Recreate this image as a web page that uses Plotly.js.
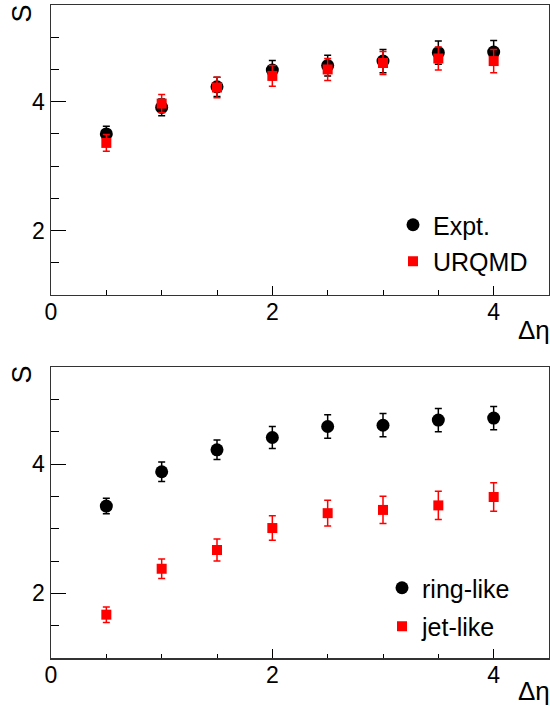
<!DOCTYPE html>
<html>
<head>
<meta charset="utf-8">
<script src="https://cdn.plot.ly/plotly-3.0.1.min.js"></script>
<style>html,body{margin:0;padding:0;background:#fff;}#chart{width:550px;height:706px;}</style>
</head>
<body>
<div id="chart"></div>
<script>
// Data
const deta = [0.5, 1.0, 1.5, 2.0, 2.5, 3.0, 3.5, 4.0];

// Top panel
const expt     = [3.50, 3.91, 4.23, 4.49, 4.56, 4.63, 4.76, 4.77];
const exptErr  = [0.12, 0.13, 0.15, 0.15, 0.16, 0.18, 0.18, 0.18];
const urqmd    = [3.36, 3.97, 4.22, 4.40, 4.50, 4.60, 4.67, 4.63];
const urqmdErr = [0.13, 0.14, 0.16, 0.16, 0.17, 0.18, 0.18, 0.18];

// Bottom panel
const ring     = [3.35, 3.88, 4.22, 4.41, 4.58, 4.60, 4.68, 4.71];
const ringErr  = [0.12, 0.15, 0.15, 0.17, 0.18, 0.18, 0.18, 0.18];
const jet      = [1.67, 2.38, 2.67, 3.01, 3.24, 3.29, 3.36, 3.49];
const jetErr   = [0.12, 0.15, 0.17, 0.19, 0.20, 0.21, 0.22, 0.22];

const xTickVals = [0, 2, 4];
const xTickText = ['0', '2', '4'];
const yTickVals = [2, 4];
const yTickText = ['2', '4'];

const FONT = 'Liberation Sans, Arial, Helvetica, sans-serif';

function tr(name, y, err, color, symbol, size, xa, ya, leg) {
  return {
    type: 'scatter', mode: 'markers', name: name,
    x: deta, y: y, xaxis: xa, yaxis: ya, legend: leg,
    legendgroup: name,
    marker: {color: color, symbol: symbol, size: size},
    error_y: {type: 'data', array: err, visible: true, color: color, thickness: 1.5, width: 3.5}
  };
}

const data = [
  tr('Expt.', expt, exptErr, '#000000', 'circle', 13, 'x', 'y', 'legend'),
  tr('URQMD', urqmd, urqmdErr, '#ff0000', 'square', 10, 'x', 'y', 'legend'),
  tr('ring-like', ring, ringErr, '#000000', 'circle', 13, 'x2', 'y2', 'legend2'),
  tr('jet-like', jet, jetErr, '#ff0000', 'square', 10, 'x2', 'y2', 'legend2')
];

function xax(anchor) {
  return {
    anchor: anchor, domain: [0, 1], range: [0, 4.5],
    tickmode: 'array', tickvals: xTickVals, ticktext: xTickText,
    ticks: 'inside', ticklen: 9, tickwidth: 1, tickcolor: '#000',
    ticklabelstandoff: -4,
    minor: {dtick: 0.5, tick0: 0, ticks: 'inside', ticklen: 4.5, tickwidth: 1, tickcolor: '#000', showgrid: false},
    showline: true, linecolor: '#333', linewidth: 1.5, mirror: true,
    showgrid: false, zeroline: false,
    tickfont: {family: FONT, size: 23, color: '#000'}
  };
}
function yax(anchor, dom) {
  return {
    anchor: anchor, domain: dom, range: [1, 5.5],
    tickmode: 'array', tickvals: yTickVals, ticktext: yTickText,
    ticks: 'inside', ticklen: 15, tickwidth: 1, tickcolor: '#000',
    minor: {dtick: 0.5, tick0: 0, ticks: 'inside', ticklen: 7.7, tickwidth: 1, tickcolor: '#000', showgrid: false},
    showline: true, linecolor: '#333', linewidth: 1.5, mirror: true,
    showgrid: false, zeroline: false,
    tickfont: {family: FONT, size: 23, color: '#000'}
  };
}

// pixel -> paper helpers (plot area: x 51..549, y 5..658)
const px = p => (p - 51) / 498;
const py = p => 1 - (p - 5) / 653;

const layout = {
  width: 550, height: 706,
  margin: {l: 51, r: 1, t: 5, b: 48},
  paper_bgcolor: '#fff', plot_bgcolor: '#fff',
  font: {family: FONT, color: '#000'},
  xaxis: xax('y'),
  yaxis: yax('x', [0.5559, 1]),
  xaxis2: xax('y2'),
  yaxis2: yax('x2', [0, 0.4456]),
  showlegend: true,
  legend: {
    x: px(393), y: py(202), xanchor: 'left', yanchor: 'top',
    bgcolor: 'rgba(0,0,0,0)', borderwidth: 0, tracegroupgap: 1,
    font: {family: FONT, size: 25, color: '#000'}
  },
  legend2: {
    x: px(382), y: py(565), xanchor: 'left', yanchor: 'top',
    bgcolor: 'rgba(0,0,0,0)', borderwidth: 0, tracegroupgap: 3,
    font: {family: FONT, size: 25, color: '#000'}
  },
  annotations: [
    {text: 'S', xref: 'paper', yref: 'paper', x: px(21.5), y: py(14), xanchor: 'center', yanchor: 'middle',
     textangle: -90, showarrow: false, font: {family: FONT, size: 27, color: '#000'}},
    {text: 'S', xref: 'paper', yref: 'paper', x: px(21.5), y: py(375), xanchor: 'center', yanchor: 'middle',
     textangle: -90, showarrow: false, font: {family: FONT, size: 27, color: '#000'}},
    {text: 'Δη', xref: 'paper', yref: 'paper', x: px(552), y: py(330), xanchor: 'right', yanchor: 'middle',
     showarrow: false, font: {family: FONT, size: 26, color: '#000'}},
    {text: 'Δη', xref: 'paper', yref: 'paper', x: px(552), y: py(691), xanchor: 'right', yanchor: 'middle',
     showarrow: false, font: {family: FONT, size: 26, color: '#000'}}
  ]
};

Plotly.newPlot('chart', data, layout, {displayModeBar: false, staticPlot: true});
</script>
</body>
</html>
